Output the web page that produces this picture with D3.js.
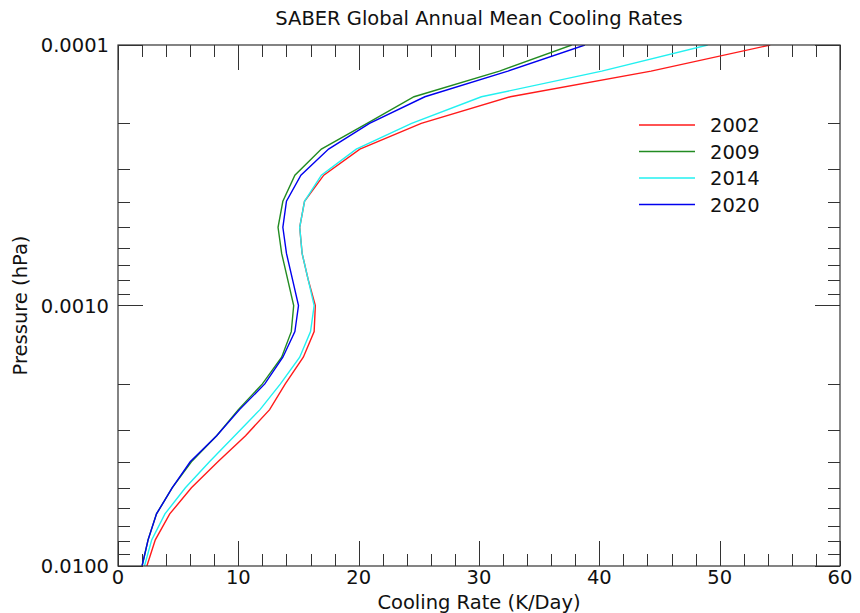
<!DOCTYPE html>
<html>
<head>
<meta charset="utf-8">
<script src="https://cdn.jsdelivr.net/npm/d3@7"></script>
<style>
  body { margin: 0; background: #fff; }
  svg { display: block; font-family: 'DejaVu Sans', sans-serif; }
</style>
</head>
<body>
<div id="chart"></div>
<script>
// --- data (pressure levels in hPa, rates in K/day)
const pressure = [0.0001, 0.000126, 0.000158, 0.0002, 0.000251, 0.000316, 0.000398,
  0.000501, 0.000631, 0.000794, 0.001, 0.00126, 0.00158, 0.002, 0.00251, 0.00316,
  0.00398, 0.00501, 0.00631, 0.00794, 0.01];

const years = ['2002', '2009', '2014', '2020'];
const colors = ['#ff1a1a', '#228b22', '#22f0f0', '#0000ee'];

const rate2002 = [54.2, 44.3, 32.6, 25.2, 20.1, 17.1, 15.5, 15.1, 15.3, 15.8, 16.4,
  16.3, 15.4, 13.9, 12.6, 10.6, 8.3, 6.1, 4.3, 3.1, 2.4];
const rate2009 = [37.7, 31.7, 24.6, 20.7, 16.9, 14.7, 13.7, 13.3, 13.6, 14.1, 14.6,
  14.4, 13.6, 12.0, 10.0, 8.2, 6.1, 4.5, 3.2, 2.5, 2.0];
const rate2014 = [49.0, 40.2, 30.2, 24.4, 19.8, 16.9, 15.5, 15.1, 15.3, 15.8, 16.3,
  16.0, 15.1, 13.5, 11.8, 9.7, 7.6, 5.6, 3.9, 2.8, 2.2];
const rate2020 = [38.8, 32.4, 25.5, 20.9, 17.5, 15.2, 14.0, 13.7, 14.0, 14.5, 15.0,
  14.7, 13.7, 12.2, 10.1, 8.2, 6.0, 4.5, 3.2, 2.5, 2.0];

const xTicks = [0, 10, 20, 30, 40, 50, 60];
const yTicks = [0.0001, 0.001, 0.01];

// --- setup
const width = 860;
const height = 613;
const margin = { top: 45, right: 20, bottom: 47, left: 118 };
const axisColor = '#333';
const fontSize = 19.5;

const series = [rate2002, rate2009, rate2014, rate2020].map((vals, i) => ({
  year: years[i],
  color: colors[i],
  values: vals.map((v, j) => ({ rate: v, p: pressure[j] }))
}));

// --- scales
const x = d3.scaleLinear()
  .domain([0, 60])
  .range([margin.left, width - margin.right]);

const y = d3.scaleLog()
  .domain([0.0001, 0.01])
  .range([margin.top, height - margin.bottom]);

const svg = d3.select('#chart')
  .append('svg')
  .attr('width', width)
  .attr('height', height);

svg.append('clipPath')
  .attr('id', 'plot-clip')
  .append('rect')
  .attr('x', x(0))
  .attr('y', y(0.0001))
  .attr('width', x(60) - x(0))
  .attr('height', y(0.01) - y(0.0001));

// --- ticks (inward, on all four sides)
const minorX = d3.range(0, 61, 2);
const minorY = [];
[0.0001, 0.001].forEach((dec) => {
  for (let k = 2; k <= 9; k++) minorY.push(dec * k);
});

const ticks = svg.append('g')
  .attr('stroke', axisColor)
  .attr('stroke-width', 1);

const bigLen = 25;
const smallLen = 12;

minorX.forEach((v) => {
  const len = v % 10 === 0 ? bigLen : smallLen;
  const xp = Math.round(x(v)) + 0.5;
  ticks.append('line').attr('x1', xp).attr('x2', xp)
    .attr('y1', y(0.01)).attr('y2', y(0.01) - len);
  ticks.append('line').attr('x1', xp).attr('x2', xp)
    .attr('y1', y(0.0001)).attr('y2', y(0.0001) + len);
});

[...yTicks, ...minorY].forEach((v) => {
  const len = yTicks.includes(v) ? bigLen : smallLen;
  const yp = Math.round(y(v)) + 0.5;
  ticks.append('line').attr('y1', yp).attr('y2', yp)
    .attr('x1', x(0)).attr('x2', x(0) + len);
  ticks.append('line').attr('y1', yp).attr('y2', yp)
    .attr('x1', x(60)).attr('x2', x(60) - len);
});

// --- lines
const line = d3.line()
  .x(d => x(d.rate))
  .y(d => y(d.p));

svg.append('g')
  .attr('clip-path', 'url(#plot-clip)')
  .selectAll('.profile')
  .data(series)
  .join('path')
    .attr('class', 'profile')
    .attr('fill', 'none')
    .attr('stroke', d => d.color)
    .attr('stroke-width', 1.4)
    .attr('d', d => line(d.values));

// --- frame
svg.append('rect')
  .attr('x', x(0))
  .attr('y', y(0.0001))
  .attr('width', x(60) - x(0))
  .attr('height', y(0.01) - y(0.0001))
  .attr('fill', 'none')
  .attr('stroke', axisColor)
  .attr('stroke-width', 1.2);

// --- tick labels
svg.append('g').selectAll('text')
  .data(xTicks)
  .join('text')
    .attr('x', d => x(d))
    .attr('y', y(0.01) + 18)
    .attr('text-anchor', 'middle')
    .attr('font-size', fontSize)
    .attr('fill', '#111')
    .text(d => d);

svg.append('g').selectAll('text')
  .data(yTicks)
  .join('text')
    .attr('x', x(0) - 9)
    .attr('y', d => y(d) + 7)
    .attr('text-anchor', 'end')
    .attr('font-size', fontSize)
    .attr('fill', '#111')
    .text(d => d3.format('.4f')(d));

// --- titles
svg.append('text')
  .attr('x', (x(0) + x(60)) / 2)
  .attr('y', 25)
  .attr('text-anchor', 'middle')
  .attr('font-size', fontSize)
  .attr('fill', '#111')
  .text('SABER Global Annual Mean Cooling Rates');

svg.append('text')
  .attr('x', (x(0) + x(60)) / 2)
  .attr('y', 609)
  .attr('text-anchor', 'middle')
  .attr('font-size', fontSize)
  .attr('fill', '#111')
  .text('Cooling Rate (K/Day)');

svg.append('text')
  .attr('transform', `translate(27 ${y(0.001)}) rotate(-90)`)
  .attr('text-anchor', 'middle')
  .attr('font-size', fontSize)
  .attr('fill', '#111')
  .text('Pressure (hPa)');

// --- legend
const legend = svg.append('g')
  .attr('transform', 'translate(639 125)');

const item = legend.selectAll('.item')
  .data(series)
  .join('g')
    .attr('class', 'item')
    .attr('transform', (_, i) => `translate(0 ${i * 26.5})`);

item.append('line')
  .attr('x1', 0).attr('x2', 56)
  .attr('stroke', d => d.color)
  .attr('stroke-width', 1.4);

item.append('text')
  .attr('x', 71)
  .attr('y', 7)
  .attr('font-size', fontSize)
  .attr('fill', '#111')
  .text(d => d.year);
</script>
</body>
</html>
